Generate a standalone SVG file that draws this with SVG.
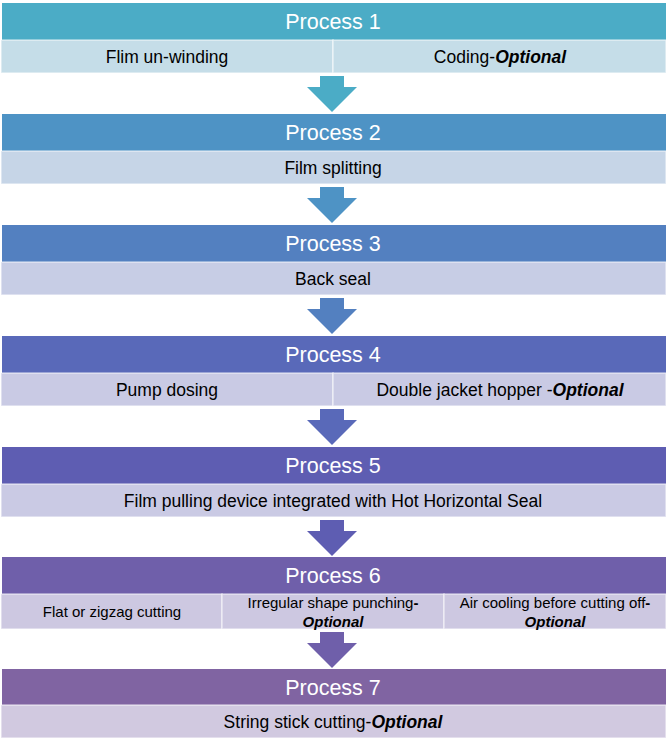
<svg xmlns="http://www.w3.org/2000/svg" width="669" height="747" viewBox="0 0 669 747">
<style>
.hd{font-family:"Liberation Sans",Arial,sans-serif;font-size:21.5px;fill:#fff;text-anchor:middle}
.sb{font-family:"Liberation Sans",Arial,sans-serif;font-size:17.5px;fill:#000;text-anchor:middle}
.sm{font-family:"Liberation Sans",Arial,sans-serif;font-size:15px;fill:#000;text-anchor:middle}
.b{font-weight:bold;font-style:italic}
.bd{font-weight:bold}
.cell{stroke:#ffffff;stroke-opacity:0.55;stroke-width:1.5}
</style>
<defs>
<path id="arr" d="M-12,0 H12 V11 H25 L0,36 L-25,11 H-12 Z"/>
</defs>
<rect width="669" height="747" fill="#fff"/>
<g id="connectors">
<use href="#arr" x="332" y="76" fill="#4BACC6"/>
<use href="#arr" x="332" y="187" fill="#4E93C5"/>
<use href="#arr" x="332" y="298" fill="#5380C0"/>
<use href="#arr" x="332" y="409" fill="#5969B9"/>
<use href="#arr" x="332" y="520" fill="#5E5DB2"/>
<use href="#arr" x="332" y="632" fill="#6F5FAA"/>
</g>
<g id="process1">
<rect x="2" y="3" width="664" height="37" fill="#4BACC6"/>
<text class="hd" x="333" y="29">Process 1</text>
<rect class="cell" x="1" y="40" width="332" height="33" fill="#C5DDE8"/>
<rect class="cell" x="333" y="40" width="333" height="33" fill="#C5DDE8"/>
<text class="sb" x="167" y="63">Flim un-winding</text>
<text class="sb" x="500" y="63">Coding-<tspan class="b">Optional</tspan></text>
</g>
<g id="process2">
<rect x="2" y="114" width="664" height="37" fill="#4E93C5"/>
<text class="hd" x="333" y="140">Process 2</text>
<rect class="cell" x="1" y="151" width="665" height="33" fill="#C6D5E7"/>
<text class="sb" x="333" y="174">Film splitting</text>
</g>
<g id="process3">
<rect x="2" y="225" width="664" height="37" fill="#5380C0"/>
<text class="hd" x="333" y="251">Process 3</text>
<rect class="cell" x="1" y="262" width="665" height="33" fill="#C7CDE5"/>
<text class="sb" x="333" y="285">Back seal</text>
</g>
<g id="process4">
<rect x="2" y="336" width="664" height="37" fill="#5969B9"/>
<text class="hd" x="333" y="362">Process 4</text>
<rect class="cell" x="1" y="373" width="332" height="33" fill="#C9CAE4"/>
<rect class="cell" x="333" y="373" width="333" height="33" fill="#C9CAE4"/>
<text class="sb" x="167" y="396">Pump dosing</text>
<text class="sb" x="500" y="396">Double jacket hopper -<tspan class="b">Optional</tspan></text>
</g>
<g id="process5">
<rect x="2" y="447" width="664" height="37" fill="#5E5DB2"/>
<text class="hd" x="333" y="473">Process 5</text>
<rect class="cell" x="1" y="484" width="665" height="33" fill="#CACAE4"/>
<text class="sb" x="333" y="507">Film pulling device integrated with Hot Horizontal Seal</text>
</g>
<g id="process6">
<rect x="2" y="557" width="664" height="37" fill="#6F5FAA"/>
<text class="hd" x="333" y="583">Process 6</text>
<rect class="cell" x="1" y="594" width="221" height="35" fill="#CDC8E1"/>
<rect class="cell" x="222" y="594" width="222" height="35" fill="#CDC8E1"/>
<rect class="cell" x="444" y="594" width="222" height="35" fill="#CDC8E1"/>
<text class="sm" x="112" y="617">Flat or zigzag cutting</text>
<text class="sm" x="333" y="608">Irregular shape punching<tspan class="bd">-</tspan></text>
<text class="sm b" x="333" y="627">Optional</text>
<text class="sm" x="555" y="608">Air cooling before cutting off<tspan class="bd">-</tspan></text>
<text class="sm b" x="555" y="627">Optional</text>
</g>
<g id="process7">
<rect x="2" y="669" width="664" height="36" fill="#8064A2"/>
<text class="hd" x="333" y="695">Process 7</text>
<rect class="cell" x="1" y="705" width="665" height="33" fill="#D1C9E0"/>
<text class="sb" x="333" y="728">String stick cutting-<tspan class="b">Optional</tspan></text>
</g>
</svg>
